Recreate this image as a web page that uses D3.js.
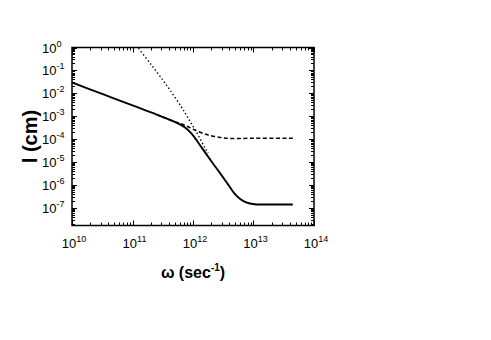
<!DOCTYPE html>
<html>
<head>
<meta charset="utf-8">
<script src="https://cdn.jsdelivr.net/npm/d3@7"></script>
<style>
  body { margin: 0; background: #fff; }
  svg text { font-family: "Liberation Sans", Arial, sans-serif; fill: #000; }
</style>
</head>
<body>
<svg id="viz" width="491" height="340"></svg>
<script>
// values, log10 of omega and of l
const solid_logw = [10.0, 10.5, 11.0, 11.4, 11.67, 11.8, 11.9, 11.98, 12.05, 12.15, 12.3, 12.45, 12.57, 12.67, 12.76, 12.85, 12.94, 13.05, 13.3, 13.65]
const solid_logl = [-1.53, -2.03, -2.53, -2.93, -3.22, -3.38, -3.56, -3.78, -4.02, -4.4, -4.96, -5.5, -5.95, -6.33, -6.58, -6.74, -6.82, -6.86, -6.86, -6.86]

const dashed_logw = [11.4, 11.67, 11.8, 11.9, 12.0, 12.17, 12.3, 12.45, 12.56, 13.0, 13.65]
const dashed_logl = [-2.93, -3.22, -3.33, -3.44, -3.57, -3.76, -3.86, -3.93, -3.97, -3.97, -3.97]

const dotted_logw = [11.1, 11.3, 11.5, 11.62, 11.8, 11.9, 12.0, 12.1, 12.2, 12.25]
const dotted_logl = [-0.04, -0.72, -1.42, -1.86, -2.57, -3.0, -3.45, -3.9, -4.4, -4.62]

const x_decades = [10, 11, 12, 13, 14]
const y_decades = [0, -1, -2, -3, -4, -5, -6, -7]

const svg = d3.select("#viz"),
    m_left = 72, m_right = 314, m_top = 47.5, m_bottom = 225.5

const x = d3.scaleLog().domain([1e10, 1e14]).range([m_left, m_right])
const y = d3.scaleLog().domain([Math.pow(10, -7.78), 1]).range([m_bottom, m_top])

function pairs(lw, ll) {
    return lw.map((w, i) => [Math.pow(10, w), Math.pow(10, ll[i])])
}

const line = d3.line()
    .x(d => x(d[0]))
    .y(d => y(d[1]))
    .curve(d3.curveCatmullRom.alpha(0.5))

svg.append("clipPath").attr("id", "clip")
    .append("rect")
    .attr("x", m_left).attr("y", m_top)
    .attr("width", m_right - m_left).attr("height", m_bottom - m_top)

const plot = svg.append("g").attr("clip-path", "url(#clip)")

plot.append("path")
    .datum(pairs(dotted_logw, dotted_logl))
    .attr("d", line)
    .attr("fill", "none").attr("stroke", "#000")
    .attr("stroke-width", 1.4).attr("stroke-dasharray", "1.4,2.4")

plot.append("path")
    .datum(pairs(dashed_logw, dashed_logl))
    .attr("d", line)
    .attr("fill", "none").attr("stroke", "#000")
    .attr("stroke-width", 1.5).attr("stroke-dasharray", "4,2.5")

plot.append("path")
    .datum(pairs(solid_logw, solid_logl))
    .attr("d", line)
    .attr("fill", "none").attr("stroke", "#000")
    .attr("stroke-width", 1.9)

// ticks, all pointing inward, on all four sides
const ticks = svg.append("g").attr("stroke", "#000").attr("stroke-width", 1)

x_decades.forEach(function(e) {
    for (let m = 1; m < 10; m++) {
        if (e == 14 && m > 1) break
        const v = m * Math.pow(10, e), px = Math.round(x(v)) + 0.5
        const len = m == 1 ? 5 : 3
        ticks.append("line").attr("x1", px).attr("x2", px).attr("y1", m_bottom).attr("y2", m_bottom - len)
        ticks.append("line").attr("x1", px).attr("x2", px).attr("y1", m_top).attr("y2", m_top + len)
    }
})

y_decades.concat([-8]).forEach(function(e) {
    for (let m = 1; m < 10; m++) {
        const v = m * Math.pow(10, e)
        if (v < y.domain()[0] || v > 1) continue
        const py = Math.round(y(v)) + 0.5
        const len = m == 1 ? 5 : 3
        ticks.append("line").attr("y1", py).attr("y2", py).attr("x1", m_left).attr("x2", m_left + len)
        ticks.append("line").attr("y1", py).attr("y2", py).attr("x1", m_right).attr("x2", m_right - len)
    }
})

svg.append("rect")
    .attr("x", m_left).attr("y", m_top)
    .attr("width", m_right - m_left).attr("height", m_bottom - m_top)
    .attr("fill", "none").attr("stroke", "#000").attr("stroke-width", 1.5)

// tick labels
svg.append("g").selectAll("text")
    .data(x_decades)
    .enter().append("text")
    .attr("x", d => x(Math.pow(10, d)) + 2)
    .attr("y", 248)
    .attr("text-anchor", "middle")
    .style("font-size", "13px")
    .each(function(d) {
        const t = d3.select(this)
        t.append("tspan").text("10")
        t.append("tspan").attr("dy", -6).style("font-size", "9px").text(d)
    })

svg.append("g").selectAll("text")
    .data(y_decades)
    .enter().append("text")
    .attr("x", 42)
    .attr("y", d => y(Math.pow(10, d)) + 5)
    .style("font-size", "13px")
    .each(function(d) {
        const t = d3.select(this)
        t.append("tspan").text("10")
        t.append("tspan").attr("dy", -6).style("font-size", "9px").text(d == 0 ? "0" : "-" + (-d))
    })

// axis titles
const xt = svg.append("text")
    .attr("x", (m_left + m_right) / 2)
    .attr("y", 278)
    .attr("text-anchor", "middle")
    .style("font-size", "16px").style("font-weight", "bold")
xt.append("tspan").text("\u03c9 (sec")
xt.append("tspan").attr("dy", -7).style("font-size", "10px").text("-1")
xt.append("tspan").attr("dy", 7).text(")")

svg.append("text")
    .attr("transform", "translate(37," + (m_top + m_bottom) / 2 + ") rotate(-90)")
    .attr("text-anchor", "middle")
    .style("font-size", "20px").style("font-weight", "bold")
    .text("l (cm)")
</script>
</body>
</html>
